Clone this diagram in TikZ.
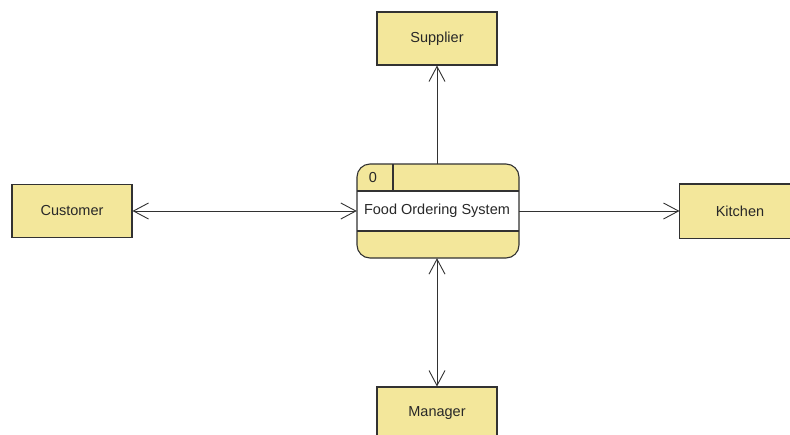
\documentclass[tikz,border=0pt]{standalone}
\usepackage{fontspec}
\setmainfont{Liberation Sans}
\usetikzlibrary{arrows.meta}
\definecolor{dfdyellow}{RGB}{243,231,155}
\definecolor{dfdline}{RGB}{50,50,50}
\definecolor{dfdtext}{RGB}{40,40,40}
\begin{document}
\begin{tikzpicture}[x=1pt, y=-1pt,
        entity/.style={draw=dfdline, line width=1.1pt, fill=dfdyellow, text=dfdtext,
            minimum width=120pt, minimum height=53pt, inner sep=0pt,
            font=\fontsize{14.5}{17}\selectfont},
        flow/.style={draw=dfdline, line width=0.9pt,
            arrows={-Straight Barb[length=15pt, width=16pt, line width=0.9pt]}},
        flowboth/.style={flow, arrows={Straight Barb[length=15pt, width=16pt, line width=0.9pt]-Straight Barb[length=15pt, width=16pt, line width=0.9pt]}}]
        \useasboundingbox (0,0) rectangle (790,434);
        \clip (0,0) rectangle (790,434);
        \fill [white] (0,0) rectangle (790,434);
        \begin{scope}
            % process
            \fill [dfdyellow, rounded corners=13pt] (357,164) rectangle (519,258);
            \fill [white] (357,191) rectangle (519,231);
            \draw [dfdline, line width=1.1pt] (357,191) -- (519,191);
            \draw [dfdline, line width=1.1pt] (357,231) -- (519,231);
            \draw [dfdline, line width=1.1pt] (393,164) -- (393,191);
            \draw [dfdline, line width=1.1pt, rounded corners=13pt] (357,164) rectangle (519,258);
            \node [minimum width=162pt, minimum height=94pt, inner sep=0pt] (sys) at (438,211) {};
            \node [text=dfdtext, font=\fontsize{14.5}{17}\selectfont] at (373,177.5) {0};
            \node [text=dfdtext, font=\fontsize{14.5}{17}\selectfont] at (437,211) {Food Ordering System};

            % external entities
            \node [entity] (supplier) at (437,38.5) {Supplier};
            \node [entity] (customer) at (72,211) {Customer};
            \node [entity, draw=none] (kitchen) at (740,211) {Kitchen};
            \draw [dfdline, line width=1.1pt] ([xshift=20pt]kitchen.north east) -- (kitchen.north west)
                -- (kitchen.south west) -- ([xshift=20pt]kitchen.south east); % cut off at the page edge
            \node [entity] (manager) at (437,413.5) {Manager};

            % flows
            \draw [flow] (sys.north -| supplier) -- (supplier.south);
            \draw [flowboth] (customer.east) -- (sys.west);
            \draw [flow] (sys.east) -- (kitchen.west);
            \draw [flowboth] (sys.south -| manager) -- (manager.north);
        \end{scope}
    \end{tikzpicture}
\end{document}
